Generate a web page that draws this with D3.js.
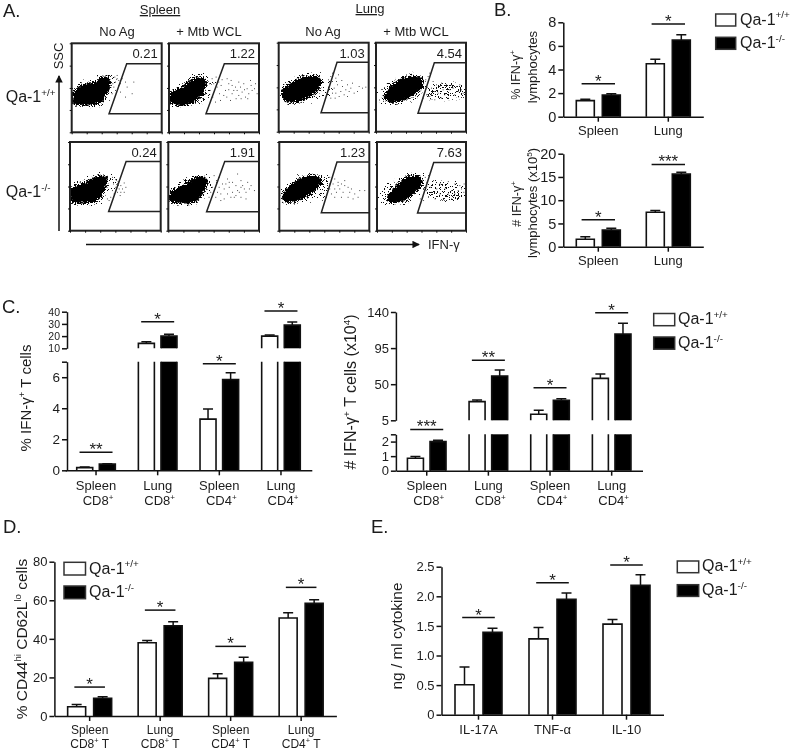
<!DOCTYPE html>
<html>
<head>
<meta charset="utf-8">
<script src="https://d3js.org/d3.v7.min.js"></script>
<style>
    html, body { margin: 0; padding: 0; background: #fff; }
    svg { display: block; filter: blur(0.3px); }
    text { font-family: "Liberation Sans", Arial, sans-serif; fill: #1c1c1c; }
    .tick line, .domain { stroke: #111; stroke-width: 1.5px; }
</style>
</head>
<body>
<div id="chart"></div>
<script>
    const series = ["wt", "ko"];
    const legendLabels = ["Qa-1^+/+^", "Qa-1^-/-^"];

    // B top
    const tissues = ["Spleen", "Lung"];
    const bPctWt = [1.36, 4.49], bPctWtHi = [1.47, 4.86];
    const bPctKo = [1.84, 6.5], bPctKoHi = [1.95, 6.95];
    const bPctSig = [2.8, 7.85], bPctStars = ["*", "*"];
    // B bottom
    const bNumWt = [1.6, 7.4], bNumWtHi = [2.15, 7.8];
    const bNumKo = [3.6, 15.6], bNumKoHi = [3.95, 16];
    const bNumSig = [5.8, 17.7], bNumStars = ["*", "***"];

    // C, both have a broken axis
    const cGroups = ["Spleen|CD8^+^", "Lung|CD8^+^", "Spleen|CD4^+^", "Lung|CD4^+^"];
    const cPctWt = [0.17, 14, 3.3, 20], cPctWtHi = [0.22, 15.4, 3.95, 21];
    const cPctKo = [0.4, 20, 5.85, 29], cPctKoHi = [0.43, 21.5, 6.28, 31.5];
    const cPctSig = [1.16, 31.8, 6.86, 40.5], cPctSigSeg = [0, 1, 0, 1];
    const cPctStars = ["**", "*", "*", "*"];
    const cNumWt = [0.85, 28.3, 12.5, 57.3], cNumWtHi = [0.97, 30.3, 17.5, 62.7];
    const cNumKo = [2, 60.3, 30, 112.6], cNumKoHi = [2.09, 67.7, 32, 125.9];
    const cNumSig = [2.83, 80, 45.7, 139.2], cNumSigSeg = [0, 1, 1, 1];
    const cNumStars = ["***", "**", "*", "*"];

    // D
    const dGroups = ["Spleen|CD8^+^ T", "Lung|CD8^+^ T", "Spleen|CD4^+^ T", "Lung|CD4^+^ T"];
    const dWt = [4.8, 38, 19.5, 50.8], dWtHi = [5.9, 39.2, 21.9, 53.5];
    const dKo = [9.2, 46.8, 27.8, 58.4], dKoHi = [10, 48.9, 30.4, 60.3];
    const dSig = [15, 54.9, 36.1, 66.7], dStars = ["*", "*", "*", "*"];

    // E
    const cytokines = ["IL-17A", "TNF-α", "IL-10"];
    const eWt = [0.507, 1.28, 1.53], eWtHi = [0.805, 1.475, 1.61];
    const eKo = [1.39, 1.95, 2.185], eKoHi = [1.46, 2.055, 2.365];
    const eSig = [1.64, 2.23, 2.53], eStars = ["*", "*", "*"];

    // A, flow plots. Units are panel channels, 0-270 across, 0-267 down.
    // The real events can't be read one by one, so the dense clouds are traced outlines
    // with a grain filter for texture, and only the loose dots are listed, by eye.
    const flowPercent = ["0.21", "1.22", "1.03", "4.54", "0.24", "1.91", "1.23", "7.63"];
    const flowGateTop = [165, 166, 175, 175, 167, 168, 173, 172];
    const flowGateTopY = [61, 61, 59, 60, 59, 59, 60, 62];
    const flowGateLow = [112, 111, 127, 126, 115, 114, 126, 123];
    const flowGateLowY = [211, 211, 210, 212, 209, 210, 213, 214];
    const flowCore = [
        [[2,150],[20,130],[50,118],[75,112],[85,103],[110,101],[118,115],[115,135],[105,155],[85,180],[45,187],[2,182]],
        [[3,150],[38,130],[63,110],[98,102],[113,115],[108,140],[93,165],[73,180],[28,187],[3,180]],
        [[8,142],[40,117],[80,100],[115,100],[130,117],[120,142],[90,167],[50,180],[15,172],[8,155]],
        [[23,160],[35,140],[58,117],[98,100],[133,104],[143,127],[123,152],[88,172],[48,180],[25,170]],
        [[2,142],[40,122],[75,105],[110,103],[110,128],[95,163],[75,180],[35,185],[2,178]],
        [[5,152],[40,132],[75,108],[110,106],[118,128],[105,153],[85,178],[30,185],[5,178]],
        [[8,158],[48,118],[83,101],[113,101],[128,118],[113,143],[78,168],[38,183],[13,178]],
        [[30,170],[40,150],[65,123],[95,103],[130,103],[140,123],[115,153],[80,178],[40,183]]
    ];
    const flowHalo = [
        [[0,135],[30,112],[65,105],[85,95],[125,95],[135,110],[125,150],[100,180],[80,190],[45,192],[0,188]],
        [[0,135],[35,118],[60,100],[90,90],[130,98],[140,120],[120,160],[90,185],[30,192],[0,185]],
        [[2,140],[25,118],[70,95],[115,92],[150,105],[165,125],[150,160],[100,180],[50,187],[10,180],[2,160]],
        [[8,150],[30,125],[60,105],[100,92],[140,98],[155,130],[130,165],[95,180],[50,187],[12,178]],
        [[0,130],[40,112],[75,95],[135,97],[145,115],[120,165],[90,190],[30,190],[0,185]],
        [[0,140],[35,118],[75,96],[125,100],[140,125],[115,170],[85,190],[25,192],[0,185]],
        [[2,145],[25,122],[60,103],[100,92],[145,100],[160,125],[135,165],[90,180],[40,187],[5,180]],
        [[5,165],[25,130],[65,105],[95,92],[140,95],[152,130],[120,170],[85,190],[30,190],[5,180]]
    ];
    const flowTail = [
        null, null, null,
        [[150,125],[200,118],[250,125],[268,140],[262,165],[210,170],[160,170],[145,150]],
        null, null, null,
        [[145,128],[200,115],[262,125],[265,165],[210,175],[165,170],[145,150]]
    ];
    const flowDots = [
        [[135,105],[130,115],[140,125],[125,130],[150,105],[160,115],[185,115],[145,145],[160,160],[180,150],[130,140],[120,150],[135,95],[145,120],[165,130],[112,170],[128,100],[122,120],[140,110]],
        [[158,108],[178,120],[168,140],[188,125],[208,115],[203,140],[218,145],[233,135],[243,110],[248,140],[263,150],[228,160],[208,155],[188,150],[183,170],[153,170],[138,175],[143,130],[163,155],[198,130],[223,120],[238,150],[258,120],[173,105],[193,140],[213,130],[178,138],[148,115],[133,120],[128,105],[140,100],[122,140],[120,120],[155,125],[200,165],[225,138],[245,125],[172,160],[215,165],[235,165],[255,135],[150,150],[185,110],[130,160]],
        [[160,90],[178,95],[170,105],[160,115],[175,125],[190,130],[205,125],[220,120],[240,130],[260,132],[200,140],[185,145],[170,150],[165,135],[210,145],[225,150],[180,160],[195,155],[160,150],[155,165],[150,130],[172,115],[188,112],[215,135],[250,135],[235,145],[148,110],[155,100],[205,160],[168,165]],
        [[150,130],[165,135],[180,125],[195,120],[210,125],[225,125],[240,130],[255,140],[260,150],[235,155],[215,165],[195,165],[175,170],[160,160],[150,155],[148,110],[155,100],[160,90],[170,115],[185,150],[200,140],[220,140],[245,145],[175,145],[205,155],[190,130],[230,135],[250,125],[165,155],[140,165]],
        [[125,105],[135,112],[128,125],[142,118],[150,130],[160,122],[145,140],[135,135],[155,140],[165,135],[150,150],[140,150],[130,155],[120,165],[125,145],[110,170],[160,150],[148,160],[115,175],[140,128]],
        [[135,100],[150,105],[142,115],[160,125],[175,110],[205,95],[215,115],[200,130],[180,135],[165,140],[220,130],[235,120],[240,140],[255,145],[268,140],[230,150],[210,150],[190,150],[175,155],[155,155],[145,150],[140,165],[155,175],[195,165],[215,165],[230,170],[190,120],[205,145],[225,140],[130,135],[125,150],[170,125],[245,130],[185,165],[165,170],[200,160],[120,165],[150,135],[180,120],[215,135]],
        [[150,105],[165,110],[175,120],[160,125],[185,125],[195,130],[205,135],[180,140],[170,150],[190,150],[215,140],[240,145],[255,145],[225,155],[205,165],[185,165],[165,165],[155,155],[150,140],[150,125],[210,150],[220,170],[235,165],[175,130],[195,115],[140,165],[128,175],[165,140]],
        [[150,120],[170,115],[190,125],[215,118],[235,125],[250,130],[263,125],[262,150],[245,160],[225,170],[200,170],[175,170],[155,165],[148,145],[160,135],[180,140],[205,140],[225,145],[245,145],[165,150],[190,155],[215,155],[235,155],[255,140],[130,170],[140,175],[145,105],[155,100]]
    ];

    const svg = d3.select("#chart").append("svg").attr("width", 791).attr("height", 750);

    // stipple for the fringe of the clouds, tile is big enough not to show rows
    const defs = svg.append("defs");
    const stipple = defs.append("pattern").attr("id", "stipple")
        .attr("width", 17).attr("height", 13).attr("patternUnits", "userSpaceOnUse");
    [[0,1],[3,0],[7,1],[10,0],[14,2],[1,4],[5,3],[9,3],[12,5],[16,4],[3,6],[7,6],[10,7],[15,7],[0,8],
     [5,8],[13,9],[2,10],[8,10],[11,11],[16,11],[4,12],[6,11],[14,12]].forEach(d => {
        stipple.append("rect").attr("x", d[0]).attr("y", d[1]).attr("width", 1).attr("height", 1).attr("fill", "#111");
    });

    // breaks up the outlines and the pattern so they read as grainy events
    const grain = defs.append("filter").attr("id", "grain")
        .attr("x", "-10%").attr("y", "-10%").attr("width", "120%").attr("height", "120%");
    grain.append("feTurbulence").attr("type", "fractalNoise").attr("baseFrequency", 0.9)
        .attr("numOctaves", 2).attr("seed", 3).attr("result", "n");
    grain.append("feDisplacementMap").attr("in", "SourceGraphic").attr("in2", "n").attr("scale", 9)
        .attr("xChannelSelector", "R").attr("yChannelSelector", "G");

    function rich(text, str, fs) {
        str.split("^").forEach((p, i) => {
            if (!p) return;
            let t = text.append("tspan").text(p);
            if (i % 2) t.attr("dy", -fs * 0.38).attr("font-size", fs * 0.62);
            else if (i > 0) t.attr("dy", fs * 0.38);
        });
    }

    function label(x, y, str, fs, anchor, rotate) {
        let t = svg.append("text").attr("font-size", fs).attr("text-anchor", anchor || "start");
        t.attr("transform", `translate(${x},${y})` + (rotate ? " rotate(-90)" : ""));
        rich(t, str, fs);
        return t;
    }

    function legend(x, y1, y2, w, h, labelX, fs) {
        [y1, y2].forEach((y, i) => {
            svg.append("rect").attr("x", x).attr("y", y).attr("width", w).attr("height", h)
                .attr("fill", i ? "#000" : "#fff").attr("stroke", "#333").attr("stroke-width", 1.5);
            label(labelX, y + h - 1.5, legendLabels[i], fs);
        });
    }

    function barChart(c) {
        let g = svg.append("g");
        let x0 = d3.scaleBand().domain(c.groups).range(c.xRange);
        let half = c.barW + c.gap / 2;
        let x1 = d3.scaleBand().domain(series).range([-half, half]).paddingInner(c.gap / (c.barW + c.gap));
        let bw = x1.bandwidth();
        let segs = c.segments.map(s => ({
            ...s, scale: d3.scaleLinear().domain(s.domain).range(s.range)
        }));
        let vals = [c.wt, c.ko], his = [c.wtHi, c.koHi];

        segs.forEach(s => {
            series.forEach((name, k) => {
                c.groups.forEach((grp, i) => {
                    let v = vals[k][i];
                    if (v <= s.domain[0]) return;
                    let xl = x0(grp) + x0.bandwidth() / 2 + x1(name);
                    let open = v > s.domain[1];
                    let yb = s.scale(s.domain[0]);
                    let yt = s.scale(Math.min(v, s.domain[1]));
                    g.append("rect").attr("x", xl).attr("y", yt).attr("width", bw).attr("height", yb - yt)
                        .attr("fill", k ? "#000" : "#fff");
                    g.append("path").attr("fill", "none").attr("stroke", "#111").attr("stroke-width", 1.6)
                        .attr("d", open ? `M${xl},${yb}V${yt}M${xl + bw},${yt}V${yb}` : `M${xl},${yb}V${yt}H${xl + bw}V${yb}`);
                    if (!open) {
                        let yh = s.scale(his[k][i]), xm = xl + bw / 2;
                        g.append("path").attr("fill", "none").attr("stroke", "#111").attr("stroke-width", 1.5)
                            .attr("d", `M${xm},${yt}V${yh}M${xm - 5},${yh}H${xm + 5}`);
                    }
                });
            });
            let axis = d3.axisLeft(s.scale).tickValues(s.ticks).tickSize(5).tickSizeOuter(0)
                .tickFormat(d => s.hide && s.hide.includes(d) ? "" : (c.fmt ? c.fmt(d) : d));
            let ag = g.append("g").attr("transform", `translate(${c.xRange[0] + (c.axisDx || 0)},0)`).call(axis);
            ag.selectAll("text").attr("font-size", s.tickFs || c.tickFs).attr("fill", "#1c1c1c").attr("x", -7)
                .style("font-family", '"Liberation Sans", Arial, sans-serif');
        });

        let yBase = segs[0].range[0];
        let bottom = d3.axisBottom(x0).tickSize(5).tickSizeOuter(0).tickFormat("");
        g.append("g").attr("transform", `translate(0,${yBase})`).call(bottom);

        c.groups.forEach((grp, i) => {
            let xm = x0(grp) + x0.bandwidth() / 2;
            let lines = grp.split("|");
            lines.forEach((ln, j) => {
                label(xm + (j ? c.line2Dx : 0), yBase + c.labelY[j], ln, c.labelFs, "middle");
            });
            // significance bar and stars
            let seg = segs[c.sigSeg ? c.sigSeg[i] : 0];
            let ys = seg.scale(c.sig[i]);
            g.append("line").attr("x1", xm - c.sigHalf).attr("x2", xm + c.sigHalf).attr("y1", ys).attr("y2", ys)
                .attr("stroke", "#111").attr("stroke-width", 1.5);
            label(xm, ys + 3, c.stars[i], 17, "middle");
        });
    }

    // ---- A ----
    const flowX = [[71.7, 161.7], [169, 259], [278.7, 368.7], [376, 466], [70, 160.7], [168.3, 259], [279.3, 369.3], [377, 466]];
    const flowY = [[43.3, 132.3], [43.3, 132.3], [42.7, 131.7], [42.7, 131.7], [142, 230.7], [142, 230.7], [142, 230.7], [142, 230.7]];

    flowPercent.forEach((pct, i) => {
        let x = d3.scaleLinear().domain([0, 270]).range(flowX[i]);
        let y = d3.scaleLinear().domain([0, 267]).range(flowY[i]);
        let line = d3.line().x(d => x(d[0])).y(d => y(d[1]));
        let p = svg.append("g");

        defs.append("clipPath").attr("id", "panel" + i).append("rect")
            .attr("x", flowX[i][0]).attr("y", flowY[i][0])
            .attr("width", flowX[i][1] - flowX[i][0]).attr("height", flowY[i][1] - flowY[i][0]);
        let cloud = p.append("g").attr("clip-path", `url(#panel${i})`).append("g").attr("filter", "url(#grain)");
        cloud.append("path").attr("d", line(flowHalo[i]) + "Z").attr("fill", "url(#stipple)");
        if (flowTail[i]) {
            // laid twice, a pixel apart, the tail is denser than the fringe
            cloud.append("path").attr("d", line(flowTail[i]) + "Z").attr("fill", "url(#stipple)");
            cloud.append("path").attr("d", line(flowTail[i]) + "Z").attr("fill", "url(#stipple)")
                .attr("transform", "translate(2,1)");
        }
        let round = d3.line().x(d => x(d[0])).y(d => y(d[1])).curve(d3.curveCatmullRomClosed);
        cloud.append("path").attr("d", round(flowCore[i])).attr("fill", "#000");

        p.selectAll(".ev").data(flowDots[i]).join("rect").attr("class", "ev")
            .attr("x", d => x(d[0])).attr("y", d => y(d[1])).attr("width", 0.9).attr("height", 0.9).attr("fill", "#222");

        let gate = [[270, flowGateTopY[i]], [flowGateTop[i], flowGateTopY[i]], [flowGateLow[i], flowGateLowY[i]], [270, flowGateLowY[i]]];
        p.append("path").attr("d", line(gate)).attr("fill", "none").attr("stroke", "#222").attr("stroke-width", 1.5);

        p.append("rect").attr("x", flowX[i][0]).attr("y", flowY[i][0])
            .attr("width", flowX[i][1] - flowX[i][0]).attr("height", flowY[i][1] - flowY[i][0])
            .attr("fill", "none").attr("stroke", "#222").attr("stroke-width", 2);

        let tk = p.append("g").attr("class", "flowticks");
        tk.append("g").attr("transform", `translate(${flowX[i][0]},0)`)
            .call(d3.axisLeft(y).tickValues([0, 67, 134, 200, 267]).tickSize(2).tickSizeOuter(0).tickFormat(""));
        tk.append("g").attr("transform", `translate(0,${flowY[i][1]})`)
            .call(d3.axisBottom(x).tickValues([0, 45, 90, 135, 180, 225, 270]).tickSize(2).tickSizeOuter(0).tickFormat(""));
        tk.selectAll(".domain").remove();
        tk.selectAll("line").style("stroke-width", "1px");

        label(flowX[i][1] - 4, flowY[i][0] + 15, pct, 13, "end");
    });

    label(3, 17, "A.", 18.5);
    label(160, 14, "Spleen", 13, "middle").attr("text-decoration", "underline");
    label(370, 13, "Lung", 13, "middle").attr("text-decoration", "underline");
    [[117, "No Ag"], [209, "+ Mtb WCL"], [323, "No Ag"], [416, "+ Mtb WCL"]].forEach(d => {
        label(d[0], 36, d[1], 13, "middle");
    });
    label(5.7, 101.7, "Qa-1^+/+^", 16);
    label(5.7, 197, "Qa-1^-/-^", 16);
    label(63, 56, "SSC", 13, "middle", true);
    label(428, 249, "IFN-γ", 13);

    defs.append("marker").attr("id", "arrow").attr("viewBox", "0 0 8 8").attr("refX", 7).attr("refY", 4)
        .attr("markerWidth", 5).attr("markerHeight", 5).attr("orient", "auto")
        .append("path").attr("d", "M0,0L8,4L0,8Z").attr("fill", "#111");
    svg.append("line").attr("x1", 59).attr("x2", 59).attr("y1", 231).attr("y2", 76)
        .attr("stroke", "#111").attr("stroke-width", 1.5).attr("marker-end", "url(#arrow)");
    svg.append("line").attr("x1", 86).attr("x2", 419).attr("y1", 244.5).attr("y2", 244.5)
        .attr("stroke", "#111").attr("stroke-width", 1.5).attr("marker-end", "url(#arrow)");

    // ---- B ----
    label(494, 16, "B.", 18.5);
    barChart({
        groups: tissues, xRange: [563.3, 703.3], barW: 18, gap: 8, wt: bPctWt, wtHi: bPctWtHi, ko: bPctKo, koHi: bPctKoHi,
        segments: [{ domain: [0, 8], range: [116.7, 22.3], ticks: [0, 2, 4, 6, 8] }],
        sig: bPctSig, stars: bPctStars, sigHalf: 16.7, tickFs: 14.5, labelFs: 13, labelY: [18], line2Dx: 0
    });
    barChart({
        groups: tissues, xRange: [563.3, 703.3], barW: 18, gap: 8, wt: bNumWt, wtHi: bNumWtHi, ko: bNumKo, koHi: bNumKoHi,
        segments: [{ domain: [0, 20], range: [246.7, 153.7], ticks: [0, 5, 10, 15, 20] }],
        sig: bNumSig, stars: bNumStars, sigHalf: 16.7, tickFs: 14.5, labelFs: 13, labelY: [18], line2Dx: 0
    });
    label(520, 75, "% IFN-γ^+^", 12.5, "middle", true);
    label(537, 67, "lymphocytes", 13, "middle", true);
    label(521, 204, "# IFN-γ^+^", 12.5, "middle", true);
    label(537, 203, "lymphocytes (x10^5^)", 13, "middle", true);
    legend(715.7, 14, 37.3, 20, 12, 740, 16);

    // ---- C ----
    label(2, 313, "C.", 18.5);
    barChart({
        groups: cGroups, xRange: [65.2, 311.8], axisDx: 1.8, barW: 16, gap: 6.6, wt: cPctWt, wtHi: cPctWtHi, ko: cPctKo, koHi: cPctKoHi,
        segments: [
            { domain: [0, 7], range: [470.3, 361.7], ticks: [0, 2, 4, 6, 7], hide: [7], tickFs: 13.5 },
            { domain: [10, 40], range: [348.3, 311.7], ticks: [10, 20, 30, 40], tickFs: 10.5 }
        ],
        sig: cPctSig, sigSeg: cPctSigSeg, stars: cPctStars, sigHalf: 16.5, tickFs: 13, labelFs: 13, labelY: [19.5, 34.5], line2Dx: 2
    });
    label(31, 398, "% IFN-γ^+^ T cells", 15, "middle", true);
    barChart({
        groups: cGroups, xRange: [395.9, 642.5], barW: 16, gap: 6.6, wt: cNumWt, wtHi: cNumWtHi, ko: cNumKo, koHi: cNumKoHi,
        segments: [
            { domain: [0, 2.5], range: [470.7, 434.3], ticks: [0, 1, 2, 2.5], hide: [2.5] },
            { domain: [5, 140], range: [420.3, 312], ticks: [5, 50, 95, 140] }
        ],
        sig: cNumSig, sigSeg: cNumSigSeg, stars: cNumStars, sigHalf: 16.5, tickFs: 13, labelFs: 13, labelY: [19.5, 34.5], line2Dx: 2
    });
    label(356, 392, "# IFN-γ^+^ T cells (x10^4^)", 16, "middle", true);
    legend(653.7, 313.5, 337, 21, 12.2, 678, 16);

    // ---- D ----
    label(3, 533, "D.", 18.5);
    barChart({
        groups: dGroups, xRange: [54.4, 336.4], barW: 18, gap: 8, wt: dWt, wtHi: dWtHi, ko: dKo, koHi: dKoHi,
        segments: [{ domain: [0, 80], range: [716, 561.7], ticks: [0, 20, 40, 60, 80] }],
        sig: dSig, stars: dStars, sigHalf: 15.3, tickFs: 13, labelFs: 12, labelY: [17.5, 31.5], line2Dx: 0
    });
    label(27, 639, "% CD44^hi^ CD62L^lo^ cells", 15.5, "middle", true);
    legend(64, 562.3, 586, 21.5, 12.7, 89, 16);

    // ---- E ----
    label(371, 533, "E.", 18.5);
    barChart({
        groups: cytokines, xRange: [441.5, 663.5], barW: 19, gap: 9, wt: eWt, wtHi: eWtHi, ko: eKo, koHi: eKoHi,
        segments: [{ domain: [0, 2.5], range: [714.7, 566.7], ticks: [0, 0.5, 1, 1.5, 2, 2.5] }],
        fmt: d => d === 0 ? "0" : d3.format(".1f")(d),
        sig: eSig, stars: eStars, sigHalf: 16.3, tickFs: 13, labelFs: 13, labelY: [19.5], line2Dx: 0
    });
    label(402, 636, "ng / ml cytokine", 15.4, "middle", true);
    legend(677.3, 561, 584.7, 21.4, 11.7, 702, 16);
</script>
</body>
</html>
